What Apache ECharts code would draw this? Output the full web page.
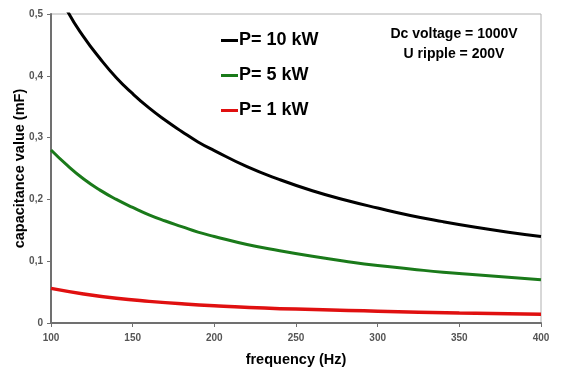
<!DOCTYPE html>
<html><head><meta charset="utf-8">
<script src="https://cdn.jsdelivr.net/npm/echarts@6/dist/echarts.min.js"></script>
<style>html,body{margin:0;padding:0;background:#fff}#c{width:566px;height:369px}</style>
</head><body><div id="c"></div>
<script>
var freq10 = [100,110,120,130,140,150,160,170,180,190,200,220,240,260,280,300,320,340,360,380,400];
var cap10  = [0.56,0.505,0.463,0.428,0.397,0.371,0.348,0.328,0.31,0.293,0.279,0.253,0.232,0.214,0.199,0.186,0.174,0.164,0.155,0.147,0.14];
var freq5  = [100,110,120,130,140,150,160,170,180,190,200,220,240,260,280,300,320,340,360,380,400];
var cap5   = [0.28,0.255,0.233,0.215,0.20,0.187,0.175,0.165,0.156,0.147,0.14,0.127,0.117,0.108,0.10,0.093,0.0875,0.082,0.078,0.074,0.07];
var freq1  = [100,120,140,160,180,200,250,300,350,400];
var cap1   = [0.056,0.047,0.04,0.035,0.031,0.028,0.0225,0.019,0.016,0.014];
var seriesNames = ['P= 10 kW','P= 5 kW','P= 1 kW'];
var seriesColors = ['#000000','#1a7a1a','#e01010'];
var note1 = 'Dc voltage = 1000V';
var note2 = 'U ripple = 200V';
var xTitle = 'frequency (Hz)';
var yTitle = 'capacitance value (mF)';

function pairs(xs, ys){ return xs.map(function(x,i){return [x, ys[i]];}); }
var font = 'Liberation Sans, Arial, sans-serif';
var chart = echarts.init(document.getElementById('c'));
chart.setOption({
  animation:false,
  backgroundColor:'#fff',
  grid:{left:51,right:25,top:14,bottom:46,show:true,borderColor:'#b0b0b0',borderWidth:1,containLabel:false,outerBoundsMode:'none'},
  legend:{
    orient:'vertical', left:216, top:26, itemGap:16, itemWidth:17, itemHeight:3, icon:'rect',
    textStyle:{fontFamily:font,fontWeight:'bold',fontSize:18,color:'#000',lineHeight:19,padding:[0,0,0,-4]},
    data:seriesNames
  },
  xAxis:{type:'value',min:100,max:400,interval:50,
    name:xTitle,nameLocation:'middle',nameGap:29,nameMoveOverlap:false,
    nameTextStyle:{fontFamily:font,fontWeight:'bold',fontSize:14.5,color:'#000'},
    axisLine:{show:true,lineStyle:{color:'#707070',width:2}},
    axisTick:{show:true,length:4,lineStyle:{color:'#707070',width:1}},
    axisLabel:{fontFamily:font,fontWeight:'bold',fontSize:10,color:'#555',margin:10},
    splitLine:{show:false}},
  yAxis:{type:'value',min:0,max:0.5,interval:0.1,
    name:yTitle,nameLocation:'middle',nameGap:24,nameRotate:90,nameMoveOverlap:false,
    nameTextStyle:{fontFamily:font,fontWeight:'bold',fontSize:14.5,color:'#000'},
    axisLine:{show:true,lineStyle:{color:'#707070',width:2}},
    axisTick:{show:true,length:4,lineStyle:{color:'#707070',width:1}},
    axisLabel:{fontFamily:font,fontWeight:'bold',fontSize:10,color:'#555',margin:8,
      formatter:function(v){return String(Math.round(v*10)/10).replace('.',',');}},
    splitLine:{show:false}},
  graphic:[
    {type:'text',x:0,y:0,style:{text:note1+'\n'+note2,x:454,y:24,textAlign:'center',fontFamily:font,fontWeight:'bold',fontSize:14,lineHeight:20,fill:'#000'}}
  ],
  series:[
    {name:seriesNames[0],type:'line',smooth:true,showSymbol:false,clip:true,data:pairs(freq10,cap10),lineStyle:{color:seriesColors[0],width:3},itemStyle:{color:seriesColors[0]}},
    {name:seriesNames[1],type:'line',smooth:true,showSymbol:false,clip:true,data:pairs(freq5,cap5),lineStyle:{color:seriesColors[1],width:3},itemStyle:{color:seriesColors[1]}},
    {name:seriesNames[2],type:'line',smooth:true,showSymbol:false,clip:true,data:pairs(freq1,cap1),lineStyle:{color:seriesColors[2],width:3.5},itemStyle:{color:seriesColors[2]}}
  ]
});
</script></body></html>
